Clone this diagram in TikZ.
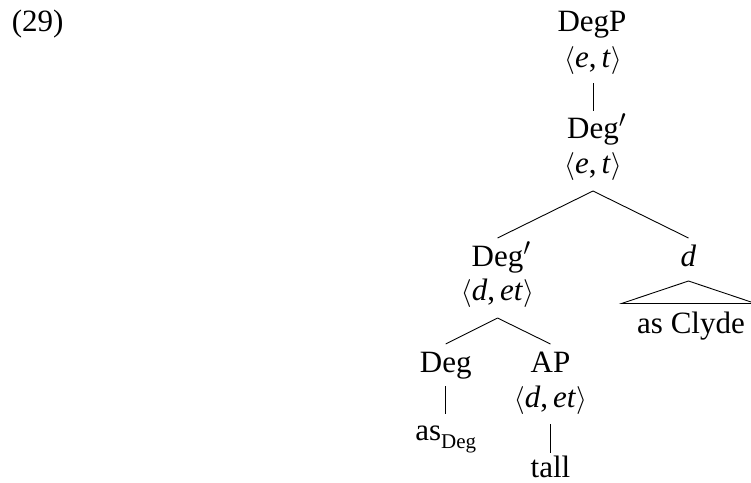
\documentclass[tikz,border=0pt]{standalone}
\usepackage{graphicx}
\usepackage{fontspec}
\setmainfont{Liberation Serif}
\newcommand\ang[2]{\scalebox{1.12}{$\langle$}\textit{#1},\,\textit{#2}\scalebox{1.12}{$\rangle$}}
\newcommand\degbar{Deg\rlap{\scalebox{1.2}{$'$}}}
\begin{document}
\begin{tikzpicture}[x=1pt,y=1pt,
  lab/.style={inner sep=0pt, anchor=base, font=\fontsize{31}{37}\selectfont},
  edge/.style={line width=0.9pt}]
\useasboundingbox (0,0) rectangle (751,-482);
\node[lab, anchor=base west] (ex) at (11.7,-31) {(29)};
\node[lab] (degp) at (592,-31) {DegP};
\node[lab] (t1) at (593,-67) {\ang et};
\node[lab] (db1) at (593,-138) {\degbar};
\node[lab] (t2) at (593,-173) {\ang et};
\node[lab] (db2) at (497.5,-266) {\degbar};
\node[lab] (t3) at (497.5,-300) {\ang d{et}};
\node[lab] (dn) at (688.5,-266) {\textit{d}};
\node[lab] (clyde) at (691,-333) {as Clyde};
\node[lab] (deg) at (445.7,-372) {Deg};
\node[lab] (ap) at (550.5,-372) {AP};
\node[lab] (t4) at (550.5,-407) {\ang d{et}};
\node[lab] (asd) at (445.7,-440) {as\raisebox{-8pt}{\fontsize{21}{24}\selectfont Deg}};
\node[lab] (tall) at (550.5,-477) {tall};
\draw[edge] ([yshift=-16pt]t1.base) -- ([yshift=27pt]db1.base);
\draw[edge] ([yshift=-18pt]t2.base) -- ([yshift=28pt]db2.base);
\draw[edge] ([yshift=-18pt]t2.base) -- ([yshift=28pt]dn.base);
\draw[edge] ([yshift=-18pt]t3.base) -- ([yshift=28pt]deg.base);
\draw[edge] ([yshift=-18pt]t3.base) -- ([yshift=28pt]ap.base);
\draw[edge] ([yshift=-14pt]deg.base) -- ([yshift=26pt]asd.base);
\draw[edge] ([yshift=-17pt]t4.base) -- ([yshift=24pt]tall.base);
\draw[edge] ([yshift=-15pt]dn.base) -- ([shift={(-67pt,-37.5pt)}]dn.base)
  -- ([shift={(67pt,-37.5pt)}]dn.base) -- cycle;
\end{tikzpicture}
\end{document}
